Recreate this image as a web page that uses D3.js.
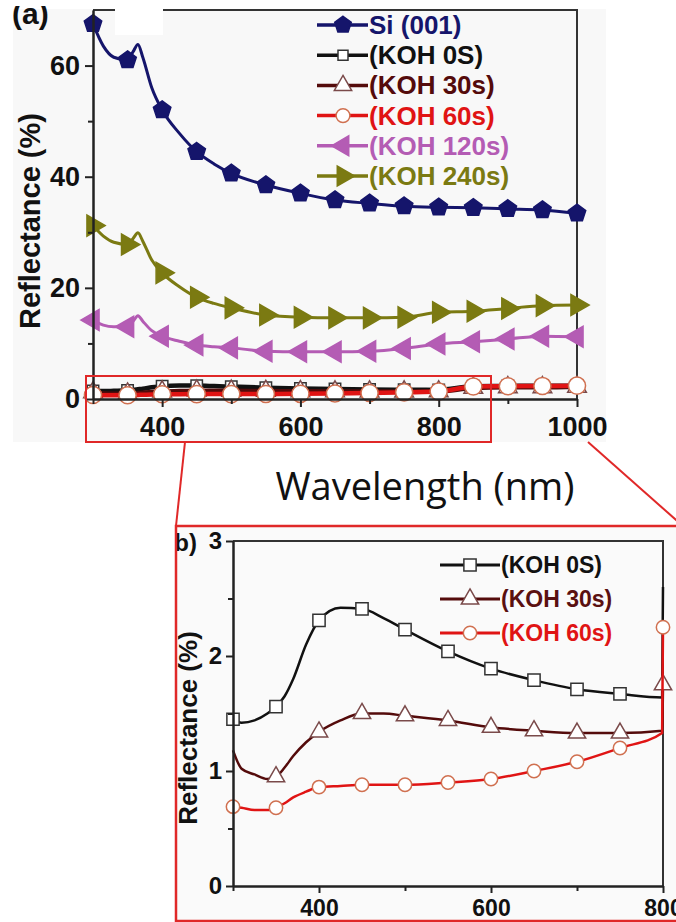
<!DOCTYPE html>
<html>
<head>
<meta charset="utf-8">
<script src="https://cdn.jsdelivr.net/npm/d3@7"></script>
<style>
  body { margin: 0; background: #fff; }
  svg { display: block; }
  text { font-family: "Liberation Sans", Arial, sans-serif; }
</style>
</head>
<body>
<div class="canvas"></div>
<script>
// ---- data ----
const mainWl = [300, 315, 330, 350, 358, 365, 372, 385, 400, 425, 450, 475, 500, 550, 600, 650, 700, 750, 800, 850, 900, 950, 1000];
const siMain   = [67.5, 63.5, 61.5, 61, 62.5, 63.8, 61.5, 56, 52, 47.8, 44.5, 42.3, 40.6, 38.5, 37, 35.8, 35.2, 34.7, 34.5, 34.4, 34.2, 34, 33.4];
const k240Main = [31.2, 29.3, 28.2, 27.8, 28.9, 29.9, 28.4, 25, 22.7, 20.2, 18.3, 17.2, 16.4, 15.1, 14.7, 14.6, 14.6, 14.7, 15.6, 15.8, 16.3, 16.8, 16.9];
const k120Main = [14.2, 13.3, 13, 13, 14, 15, 14, 12.3, 11.3, 10.4, 9.7, 9.4, 9.2, 8.6, 8.5, 8.5, 8.6, 9.1, 9.9, 10.3, 10.8, 11.3, 11.2];
const k0Main   = [1.45, 1.42, 1.47, 1.56, 1.65, 1.75, 1.85, 2.1, 2.31, 2.42, 2.41, 2.33, 2.23, 2.04, 1.89, 1.79, 1.71, 1.67, 1.64, 2.3, 2.35, 2.4, 2.4];
const k30Main  = [1.18, 0.99, 0.94, 0.95, 1.0, 1.06, 1.13, 1.25, 1.34, 1.44, 1.5, 1.5, 1.48, 1.44, 1.38, 1.35, 1.33, 1.33, 1.35, 2.0, 2.1, 2.1, 2.2];
const k60Main  = [0.72, 0.68, 0.66, 0.68, 0.7, 0.73, 0.76, 0.82, 0.86, 0.87, 0.88, 0.88, 0.88, 0.9, 0.93, 1.0, 1.08, 1.2, 1.33, 2.25, 2.3, 2.35, 2.4];

const insetWl = [300, 310, 325, 340, 350, 360, 370, 385, 400, 425, 450, 475, 500, 550, 600, 650, 700, 750, 799, 800];
const k0Inset  = [1.45, 1.42, 1.44, 1.5, 1.56, 1.65, 1.8, 2.1, 2.31, 2.42, 2.41, 2.33, 2.23, 2.04, 1.89, 1.79, 1.71, 1.67, 1.64, 2.6];
const k30Inset = [1.18, 1.02, 0.97, 0.93, 0.95, 1.03, 1.13, 1.25, 1.34, 1.44, 1.5, 1.5, 1.48, 1.44, 1.38, 1.35, 1.33, 1.33, 1.35, 1.75];
const k60Inset = [0.69, 0.68, 0.66, 0.66, 0.68, 0.72, 0.77, 0.82, 0.86, 0.87, 0.88, 0.88, 0.88, 0.9, 0.93, 1.0, 1.08, 1.2, 1.33, 2.25];

const mainMarkWl = [300, 350, 400, 450, 500, 550, 600, 650, 700, 750, 800, 850, 900, 950, 1000];
const k0InsetMarkWl = [300, 350, 400, 450, 500, 550, 600, 650, 700, 750];
const k30InsetMarkWl = [350, 400, 450, 500, 550, 600, 650, 700, 750, 800];
const k60InsetMarkWl = [300, 350, 400, 450, 500, 550, 600, 650, 700, 750, 800];

const mainYTicks = [0, 20, 40, 60];
const mainYMinor = [10, 30, 50];
const mainXTicks = [400, 600, 800, 1000];
const mainXMinor = [300, 500, 700, 900];
const insetYTicks = [0, 1, 2, 3];
const insetYMinor = [0.5, 1.5, 2.5];
const insetXTicks = [400, 600, 800];
const insetXMinor = [300, 500, 700];

const legendMain = ["Si (001)", "(KOH 0S)", "(KOH 30s)", "(KOH 60s)", "(KOH 120s)", "(KOH 240s)"];
const legendInset = ["(KOH 0S)", "(KOH 30s)", "(KOH 60s)"];

// ---- symbols ----
const pentagon = {
  draw(ctx, size) {
    const r = Math.sqrt(size / 2.378);
    for (let i = 0; i < 5; i++) {
      const a = -Math.PI / 2 + i * 2 * Math.PI / 5;
      if (i) ctx.lineTo(r * Math.cos(a), r * Math.sin(a));
      else ctx.moveTo(r * Math.cos(a), r * Math.sin(a));
    }
    ctx.closePath();
  }
};

const C = {
  si: "#15156b", k0: "#111111", k30: "#540b0b", k60: "#e01414", k120: "#b45cb4", k240: "#7b7a12", red: "#e02828"
};

const svg = d3.select('.canvas')
  .append('svg')
  .attr('width', 676)
  .attr('height', 922);

// picture backgrounds
svg.append('rect').attr('x', 13).attr('y', 9).attr('width', 593).attr('height', 433).attr('fill', '#f8f8f8');
svg.append('rect').attr('x', 177).attr('y', 527).attr('width', 499).attr('height', 393).attr('fill', '#fafafa');

// ================= main chart =================
const x = d3.scaleLinear().domain([300, 1000]).range([93, 577]);
const y = d3.scaleLinear().domain([0, 70]).range([399, 10]);

const g = svg.append('g');

// frame top and right
g.append('path')
  .attr('d', `M${x(300)},${y(70)}H${x(1000)}V${y(0)}`)
  .attr('fill', 'none').attr('stroke', '#333').attr('stroke-width', 2);

const mainSeries = [
  { vals: k0Main, color: C.k0, sym: d3.symbolSquare, size: 130, fill: '#fff', stroke: '#333', rot: 0, w: 4.5, legSize: 100 },
  { vals: k30Main, color: C.k30, sym: d3.symbolTriangle, size: 150, fill: '#fff', stroke: '#7a4a4a', rot: 0, w: 4.5, legSize: 130 },
  { vals: k60Main, color: C.k60, sym: d3.symbolCircle, size: 230, fill: '#fff', stroke: '#d07050', rot: 0, w: 4.5, legSize: 150 },
  { vals: k120Main, color: C.k120, sym: d3.symbolTriangle, size: 190, fill: C.k120, stroke: C.k120, rot: -90, w: 3, legSize: 170 },
  { vals: k240Main, color: C.k240, sym: d3.symbolTriangle, size: 190, fill: C.k240, stroke: C.k240, rot: 90, w: 3, legSize: 170 },
  { vals: siMain, color: C.si, sym: pentagon, size: 200, fill: C.si, stroke: C.si, rot: 0, w: 3, legSize: 180 }
];

const lineMain = d3.line().x(d => x(d[0])).y(d => y(d[1])).curve(d3.curveMonotoneX);

mainSeries.forEach(s => {
  const pts = mainWl.map((w, i) => [w, s.vals[i]]);
  g.append('path').datum(pts)
    .attr('d', lineMain)
    .attr('fill', 'none').attr('stroke', s.color).attr('stroke-width', s.w);
  g.selectAll(null)
    .data(pts.filter(p => mainMarkWl.includes(p[0])))
    .enter().append('path')
    .attr('d', d3.symbol().type(s.sym).size(s.size))
    .attr('transform', d => `translate(${x(d[0])},${y(d[1])}) rotate(${s.rot})`)
    .attr('fill', s.fill).attr('stroke', s.stroke).attr('stroke-width', 1.5);
});

// axes
const axisStyle = (sel, fs) => {
  sel.selectAll('path, line').attr('stroke', '#222').attr('stroke-width', 2);
  sel.selectAll('text').attr('fill', '#111').attr('font-size', fs).attr('font-weight', 'bold')
    .style('font-family', '"Liberation Sans", Arial, sans-serif');
};

g.append('g').attr('transform', `translate(${x(300)},0)`)
  .call(d3.axisLeft(y).tickValues(mainYTicks).tickFormat(d3.format('d')).tickSize(8).tickSizeOuter(0).tickPadding(5))
  .call(s => axisStyle(s, 27));
g.append('g').attr('transform', `translate(${x(300)},0)`)
  .call(d3.axisLeft(y).tickValues(mainYMinor).tickSize(5).tickFormat('').tickSizeOuter(0))
  .call(s => axisStyle(s, 27));
g.append('g').attr('transform', `translate(0,${y(0)})`)
  .call(d3.axisBottom(x).tickValues(mainXTicks).tickFormat(d3.format('d')).tickSize(8).tickSizeOuter(0).tickPadding(10))
  .call(s => axisStyle(s, 27));
g.append('g').attr('transform', `translate(0,${y(0)})`)
  .call(d3.axisBottom(x).tickValues(mainXMinor).tickSize(5).tickFormat('').tickSizeOuter(0))
  .call(s => axisStyle(s, 27));

g.append('text')
  .attr('transform', 'translate(40,221) rotate(-90)')
  .attr('text-anchor', 'middle')
  .attr('font-size', 29).attr('font-weight', 'bold').attr('fill', '#111')
  .text('Reflectance (%)');

// legend
const legColors = [C.si, C.k0, C.k30, C.k60, C.k120, C.k240];
const legSeries = [mainSeries[5], mainSeries[0], mainSeries[1], mainSeries[2], mainSeries[3], mainSeries[4]];
const leg = g.selectAll('.leg').data(legendMain).enter().append('g')
  .attr('transform', (d, i) => `translate(0,${25 + i * 30.2})`);
leg.append('line').attr('x1', 317).attr('x2', 368)
  .attr('stroke', (d, i) => legColors[i]).attr('stroke-width', 3.5);
leg.append('path')
  .attr('d', (d, i) => d3.symbol().type(legSeries[i].sym).size(legSeries[i].legSize)())
  .attr('transform', (d, i) => `translate(343,0) rotate(${legSeries[i].rot})`)
  .attr('fill', (d, i) => legSeries[i].fill)
  .attr('stroke', (d, i) => legSeries[i].stroke).attr('stroke-width', 1.5);
leg.append('text').attr('x', 369).attr('y', 9)
  .attr('font-size', 26).attr('font-weight', 'bold')
  .attr('fill', (d, i) => legColors[i])
  .text(d => d);

// cut-outs and panel label
svg.append('rect').attr('x', 115).attr('y', 0).attr('width', 48).attr('height', 35).attr('fill', '#fff');
svg.append('text').attr('x', 12).attr('y', 24)
  .attr('font-size', 30).attr('font-weight', 'bold').attr('fill', '#111').text('(a)');
svg.append('rect').attr('x', 0).attr('y', 0).attr('width', 115).attr('height', 6).attr('fill', '#fff');

// zoom marker and connectors
svg.append('rect').attr('x', 86).attr('y', 376).attr('width', 405).attr('height', 66)
  .attr('fill', 'none').attr('stroke', C.red).attr('stroke-width', 2);
svg.append('line').attr('x1', 185).attr('y1', 442).attr('x2', 176).attr('y2', 526)
  .attr('stroke', C.red).attr('stroke-width', 2);
svg.append('line').attr('x1', 588).attr('y1', 442).attr('x2', 684).attr('y2', 527)
  .attr('stroke', C.red).attr('stroke-width', 2);

svg.append('text').attr('x', 425).attr('y', 500).attr('text-anchor', 'middle')
  .attr('font-size', 38).attr('fill', '#111')
  .style('font-family', '"Open Sans", "Noto Sans", sans-serif')
  .text('Wavelength (nm)');

// ================= inset =================
const xi = d3.scaleLinear().domain([300, 800]).range([233, 663]);
const yi = d3.scaleLinear().domain([0, 3]).range([886, 541]);
const gi = svg.append('g');

svg.append('defs').append('clipPath').attr('id', 'bclip')
  .append('rect').attr('x', 176).attr('y', 528).attr('width', 40).attr('height', 30);
gi.append('text').attr('x', 197).attr('y', 551).attr('text-anchor', 'end')
  .attr('clip-path', 'url(#bclip)')
  .attr('font-size', 24).attr('font-weight', 'bold').attr('fill', '#111').text('b)');

gi.append('path')
  .attr('d', `M${xi(300)},${yi(3)}H${xi(800)}V${yi(0)}`)
  .attr('fill', 'none').attr('stroke', '#333').attr('stroke-width', 2);

const insetSeries = [
  { vals: k0Inset, color: C.k0, sym: d3.symbolSquare, size: 150, stroke: '#333', marks: k0InsetMarkWl },
  { vals: k30Inset, color: C.k30, sym: d3.symbolTriangle, size: 130, stroke: '#7a4a4a', marks: k30InsetMarkWl },
  { vals: k60Inset, color: C.k60, sym: d3.symbolCircle, size: 140, stroke: '#d07050', marks: k60InsetMarkWl }
];
const lineInset = d3.line().x(d => xi(d[0])).y(d => yi(d[1])).curve(d3.curveMonotoneX);

insetSeries.forEach(s => {
  const pts = insetWl.map((w, i) => [w, s.vals[i]]);
  gi.append('path').datum(pts)
    .attr('d', lineInset)
    .attr('fill', 'none').attr('stroke', s.color).attr('stroke-width', 2.5);
  gi.selectAll(null)
    .data(pts.filter(p => s.marks.includes(p[0])))
    .enter().append('path')
    .attr('d', d3.symbol().type(s.sym).size(s.size))
    .attr('transform', d => `translate(${xi(d[0])},${yi(d[1])})`)
    .attr('fill', '#fff').attr('stroke', s.stroke).attr('stroke-width', 1.5);
});

gi.append('g').attr('transform', `translate(${xi(300)},0)`)
  .call(d3.axisLeft(yi).tickValues(insetYTicks).tickFormat(d3.format('d')).tickSize(7).tickSizeOuter(0).tickPadding(4))
  .call(s => axisStyle(s, 24));
gi.append('g').attr('transform', `translate(${xi(300)},0)`)
  .call(d3.axisLeft(yi).tickValues(insetYMinor).tickSize(5).tickFormat('').tickSizeOuter(0))
  .call(s => axisStyle(s, 24));
gi.append('g').attr('transform', `translate(0,${yi(0)})`)
  .call(d3.axisBottom(xi).tickValues(insetXTicks).tickFormat(d3.format('d')).tickSize(7).tickSizeOuter(0).tickPadding(7))
  .call(s => axisStyle(s, 23));
gi.append('g').attr('transform', `translate(0,${yi(0)})`)
  .call(d3.axisBottom(xi).tickValues(insetXMinor).tickSize(5).tickFormat('').tickSizeOuter(0))
  .call(s => axisStyle(s, 23));

gi.append('text')
  .attr('transform', 'translate(197,728) rotate(-90)')
  .attr('text-anchor', 'middle')
  .attr('font-size', 26).attr('font-weight', 'bold').attr('fill', '#111')
  .text('Reflectance (%)');

const legI = gi.selectAll('.legi').data(legendInset).enter().append('g')
  .attr('transform', (d, i) => `translate(0,${565 + i * 34})`);
legI.append('line').attr('x1', 440).attr('x2', 500)
  .attr('stroke', (d, i) => insetSeries[i].color).attr('stroke-width', 3);
legI.append('path')
  .attr('d', (d, i) => d3.symbol().type(insetSeries[i].sym).size(insetSeries[i].size)())
  .attr('transform', 'translate(470,0)')
  .attr('fill', '#fff').attr('stroke', (d, i) => insetSeries[i].stroke).attr('stroke-width', 1.5);
legI.append('text').attr('x', 501).attr('y', 8)
  .attr('font-size', 23).attr('font-weight', 'bold')
  .attr('fill', (d, i) => [C.k0, '#5a1010', C.k60][i])
  .text(d => d);

// inset red frame
svg.append('path')
  .attr('d', 'M690,526H176V921H690')
  .attr('fill', 'none').attr('stroke', C.red).attr('stroke-width', 2.5);
</script>
</body>
</html>
